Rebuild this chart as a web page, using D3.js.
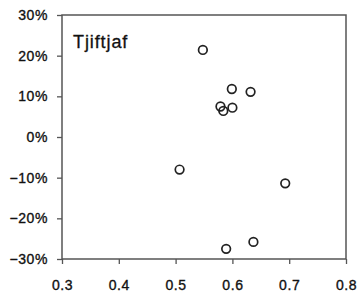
<!DOCTYPE html>
<html>
<head>
<meta charset="utf-8">
<script src="https://cdn.jsdelivr.net/npm/d3@7"></script>
<style>
  body { margin: 0; background: #fff; }
  svg { display: block; }
  .tick text { font-family: "Liberation Sans", Arial, sans-serif; font-size: 14px; fill: #111; stroke: #111; stroke-width: 0.35px; letter-spacing: 0.6px; }
</style>
</head>
<body>
<svg width="360" height="292"></svg>
<script>
// values
var xVals = [0.548, 0.599, 0.632, 0.579, 0.584, 0.600, 0.507, 0.693, 0.589, 0.637];
var yVals = [0.214, 0.118, 0.111, 0.075, 0.064, 0.072, -0.080, -0.114, -0.275, -0.258];
var xTicks = [0.3, 0.4, 0.5, 0.6, 0.7, 0.8];
var yTicks = [-0.3, -0.2, -0.1, 0, 0.1, 0.2, 0.3];
var label = "Tjiftjaf";

var svg = d3.select("svg");
// plot box (not named "top", that's window.top)
var pLeft = 62, pRight = 346, pTop = 15, pBottom = 259;

var x = d3.scaleLinear().domain([0.3, 0.8]).range([pLeft, pRight]);
var y = d3.scaleLinear().domain([-0.3, 0.3]).range([pBottom, pTop]);

// frame
svg.append("rect")
    .attr("x", pLeft).attr("y", pTop)
    .attr("width", pRight - pLeft).attr("height", pBottom - pTop)
    .attr("fill", "none")
    .attr("stroke", "#555")
    .attr("stroke-width", 1.5);

var xAxis = svg.append("g")
    .attr("transform", "translate(0," + pBottom + ")")
    .call(d3.axisBottom(x).tickValues(xTicks).tickSize(5).tickPadding(16)
      .tickFormat(d3.format(".1f")));

var yAxis = svg.append("g")
    .attr("transform", "translate(" + pLeft + ",0)")
    .call(d3.axisLeft(y).tickValues(yTicks).tickSize(5).tickPadding(9)
      .tickFormat(d3.format(".0%")));

[xAxis, yAxis].forEach(function(a) {
  a.select(".domain").remove();
  a.selectAll(".tick line").attr("stroke", "#555").attr("stroke-width", 1.3);
});

// points
svg.append("g").selectAll("circle")
    .data(xVals)
    .enter().append("circle")
    .attr("cx", function(d) { return x(d); })
    .attr("cy", function(d, i) { return y(yVals[i]); })
    .attr("r", 4.3)
    .attr("fill", "none")
    .attr("stroke", "#222")
    .attr("stroke-width", 1.7);

svg.append("text")
    .attr("x", 73)
    .attr("y", 48)
    .attr("font-family", "'Liberation Sans', Arial, sans-serif")
    .attr("font-size", 18)
    .attr("letter-spacing", "0.9px")
    .attr("fill", "#111")
    .attr("stroke", "#111")
    .attr("stroke-width", 0.3)
    .text(label);
</script>
</body>
</html>
